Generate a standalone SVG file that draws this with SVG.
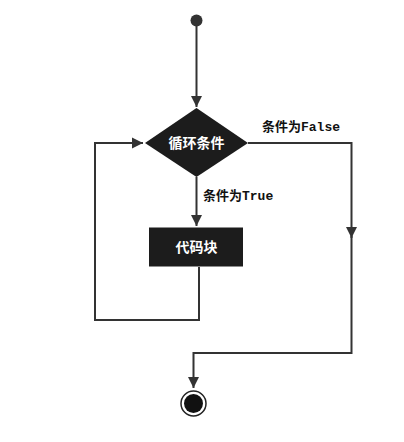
<svg xmlns="http://www.w3.org/2000/svg" width="404" height="442" viewBox="0 0 404 442">
<style>
.ln{fill:none;stroke:#333;stroke-width:2}
.lbl{font-family:"Liberation Mono","Noto Sans CJK SC",monospace;font-weight:bold;font-size:13px;fill:#111}
.nt{font-family:"Noto Sans CJK SC",sans-serif;font-weight:bold;font-size:14px;fill:#fff;text-anchor:middle}
</style>
<defs>
<marker id="ah" viewBox="0 0 10 10" refX="10" refY="5" markerWidth="5.5" markerHeight="6" orient="auto" markerUnits="strokeWidth">
<path d="M0,0 L10,5 L0,10 Z" fill="#333"/>
</marker>
</defs>
<rect width="404" height="442" fill="#fff"/>
<g id="connectors">
<path class="ln" d="M196.5,26 V107" marker-end="url(#ah)"/>
<path class="ln" d="M248,143 H351.5 V238" marker-end="url(#ah)"/>
<path class="ln" d="M351.5,236 V353 H193.5 V388" marker-end="url(#ah)"/>
<path class="ln" d="M196.5,177 V226" marker-end="url(#ah)"/>
<path class="ln" d="M199,267 V320 H95 V143 H143" marker-end="url(#ah)"/>
</g>
<g id="start"><circle cx="196.5" cy="20.5" r="6" fill="#333"/></g>
<g id="cond">
<polygon points="196.5,108 248,143 196.5,177 145,143" fill="#1c1c1c"/>
<text class="nt" x="196.5" y="148">循环条件</text>
</g>
<g id="block">
<rect x="149" y="227.5" width="94" height="39" fill="#1c1c1c"/>
<text class="nt" x="196.5" y="252">代码块</text>
</g>
<g id="end">
<circle cx="193.5" cy="403.5" r="12.5" fill="#fff" stroke="#222" stroke-width="1.5"/>
<circle cx="193.5" cy="403.5" r="9.5" fill="#111"/>
</g>
<g id="labels">
<text class="lbl" x="262" y="131">条件为False</text>
<text class="lbl" x="203" y="200">条件为True</text>
</g>
</svg>
